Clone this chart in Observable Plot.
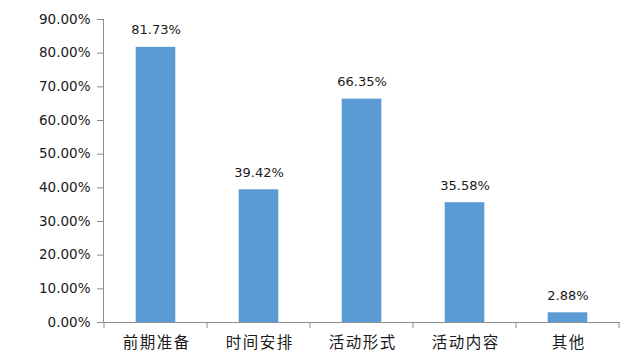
<!DOCTYPE html>
<html><head><meta charset="utf-8">
<script src="https://cdn.jsdelivr.net/npm/d3@7"></script>
<script src="https://cdn.jsdelivr.net/npm/@observablehq/plot@0.6"></script>
<style>body{margin:0;background:#fff} .xlab text{letter-spacing:1.5px}</style>
</head><body><div id="chart"></div>
<script>
const categories = ["前期准备", "时间安排", "活动形式", "活动内容", "其他"];
const values = [81.73, 39.42, 66.35, 35.58, 2.88];
const yTicks = [0, 10, 20, 30, 40, 50, 60, 70, 80, 90];

const data = categories.map((c, i) => ({category: c, value: values[i]}));
const gray = "#8c8c8c";
const fmt = d => d.toFixed(2) + "%";

function bandTicks(index, scales, values, dims) {
  const x = scales.x;
  const bw = x.bandwidth();
  const y0 = dims.height - dims.marginBottom;
  const g = d3.create("svg:g");
  const edges = categories.map(c => x(c)).concat([x(categories[categories.length - 1]) + bw]);
  for (const e of edges) {
    g.append("line").attr("x1", e).attr("x2", e).attr("y1", y0).attr("y2", y0 + 6)
      .attr("stroke", gray).attr("stroke-width", 1);
  }
  return g.node();
}

const chart = Plot.plot({
  width: 630,
  height: 360,
  marginLeft: 103,
  marginRight: 10,
  marginTop: 19,
  marginBottom: 38,
  style: {fontFamily: "'DejaVu Sans', sans-serif", fontSize: "13px", color: "#1a1a1a", background: "#fff"},
  x: {domain: categories, padding: 0, label: null},
  y: {domain: [0, 90], label: null},
  marks: [
    Plot.barY(data, {x: "category", y: "value", fill: "#5b9bd5", insetLeft: 31.7, insetRight: 31.7}),
    Plot.text(data, {x: "category", y: "value", text: d => fmt(d.value), dy: -13, lineAnchor: "bottom", fontSize: 13, fill: "#1a1a1a"}),
    Plot.axisY({ticks: yTicks, tickFormat: fmt, tickSize: 6, tickPadding: 7, stroke: gray, fill: "#1a1a1a", fontSize: 13.5}),
    Plot.axisX({tickSize: 0, tickPadding: 14, fontSize: 15.5, fontFamily: "'Noto Sans CJK SC', sans-serif", fill: "#1a1a1a", className: "xlab", dx: 0.75}),
    Plot.frame({anchor: "left", stroke: gray}),
    Plot.ruleY([0], {stroke: gray}),
    bandTicks
  ]
});
document.getElementById("chart").append(chart);
</script>
</body></html>
